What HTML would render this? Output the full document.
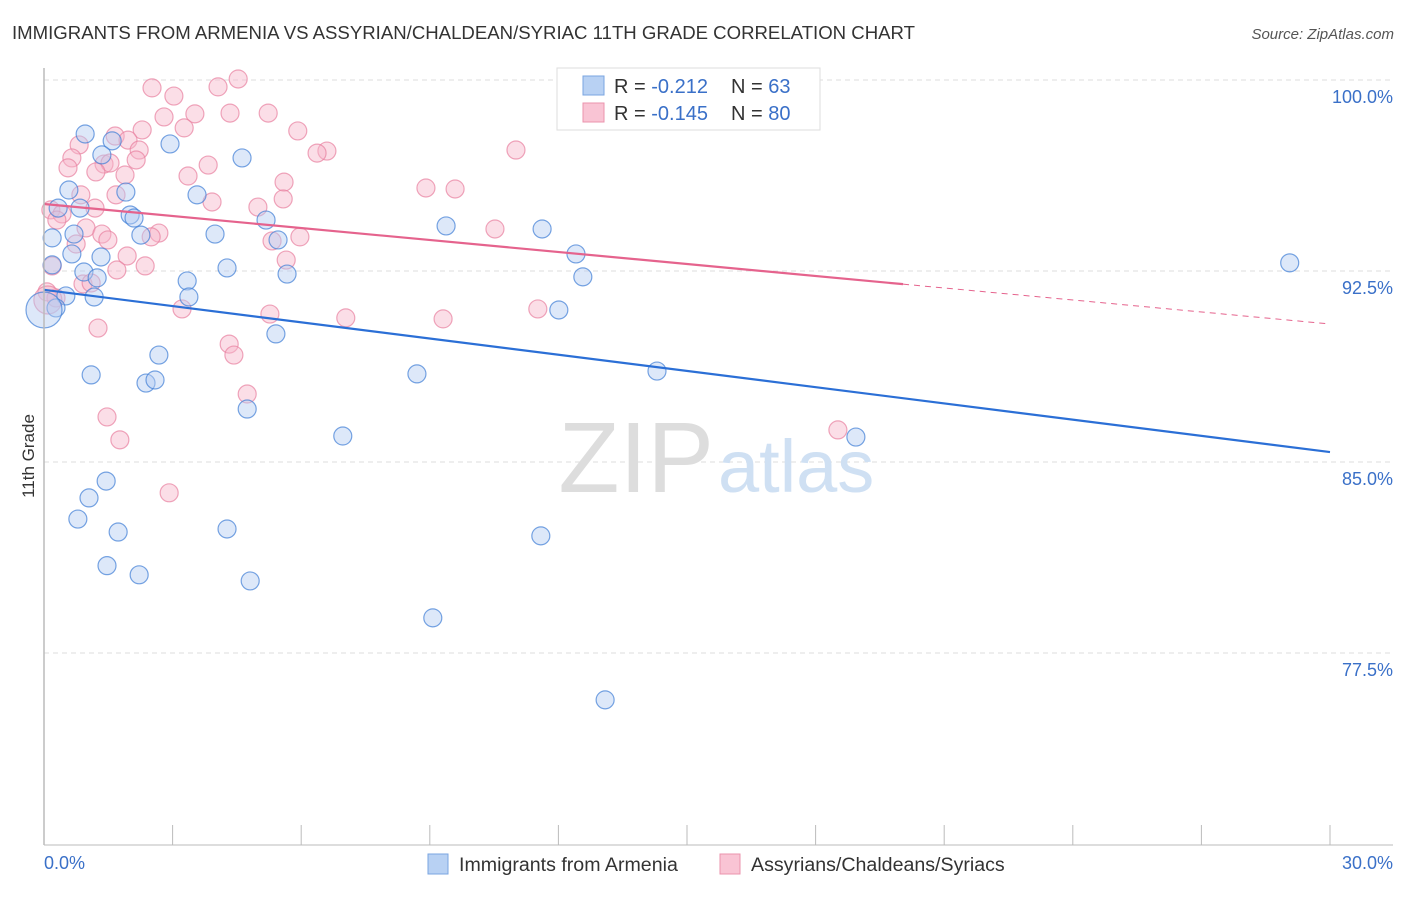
<!DOCTYPE html>
<html><head><meta charset="utf-8"><style>
body{margin:0;background:#fff;font-family:"Liberation Sans",sans-serif}
svg text{font-family:"Liberation Sans",sans-serif}
</style></head><body>
<svg id="chart" width="1406" height="892" viewBox="0 0 1406 892">
<text x="12" y="39" font-size="18.6" fill="#333">IMMIGRANTS FROM ARMENIA VS ASSYRIAN/CHALDEAN/SYRIAC 11TH GRADE CORRELATION CHART</text>
<text x="1394" y="39" font-size="15" fill="#555" font-style="italic" text-anchor="end">Source: ZipAtlas.com</text>
<g id="grid"></g>
<g>
<text x="714" y="492" font-size="100" fill="#ddd" text-anchor="end" font-family="Liberation Serif, serif">ZIP</text>
<text x="718" y="492" font-size="74" fill="#cfe0f3" text-anchor="start">atlas</text>
</g>
<g id="pts"></g>
<g id="lines"></g>
<line x1="44" y1="68" x2="44" y2="845" stroke="#bbb" stroke-width="1.5"/>
<line x1="44" y1="845" x2="1393" y2="845" stroke="#bbb" stroke-width="1"/>
<text transform="translate(34,456) rotate(-90)" font-size="17" fill="#333" text-anchor="middle">11th Grade</text>
<text x="44" y="869" font-size="18" fill="#3a70c8">0.0%</text>
<text x="1393" y="869" font-size="18" fill="#3a70c8" text-anchor="end">30.0%</text>
<g>
<rect x="557" y="68" width="263" height="62" fill="#fff" stroke="#ddd"/>
<rect x="583" y="76" width="21" height="19" fill="#b8d1f3" stroke="#7aa5e0"/>
<rect x="583" y="103" width="21" height="19" fill="#f9c4d4" stroke="#eb93ad"/>
<text x="614" y="93" font-size="20" fill="#333">R = <tspan fill="#3a70c8">-0.212</tspan><tspan x="731">N = </tspan><tspan fill="#3a70c8">63</tspan></text>
<text x="614" y="120" font-size="20" fill="#333">R = <tspan fill="#3a70c8">-0.145</tspan><tspan x="731">N = </tspan><tspan fill="#3a70c8">80</tspan></text>
</g>
<g>
<rect x="428" y="854" width="20" height="20" fill="#b8d1f3" stroke="#7aa5e0"/>
<text x="459" y="871" font-size="19.6" fill="#333">Immigrants from Armenia</text>
<rect x="720" y="854" width="20" height="20" fill="#f9c4d4" stroke="#eb93ad"/>
<text x="751" y="871" font-size="19.6" fill="#333">Assyrians/Chaldeans/Syriacs</text>
</g>
</svg>
<script>
const yTicks=[100,92.5,85,77.5];
const yTickLabels=["100.0%","92.5%","85.0%","77.5%"];
const xTicks=[0,3,6,9,12,15,18,21,24,27,30];
const blueData=[[0.96,97.88],[1.59,97.61],[2.94,97.49],[4.62,96.94],[1.35,97.06],[0.58,95.68],[1.91,95.60],[3.57,95.49],[0.33,94.97],[0.84,94.97],[2.01,94.70],[2.10,94.58],[5.18,94.50],[0.19,93.80],[0.70,93.95],[2.26,93.91],[3.99,93.95],[5.46,93.72],[9.38,94.27],[11.62,94.15],[12.41,93.17],[1.33,93.05],[0.65,93.17],[0.19,92.74],[0.93,92.46],[1.24,92.23],[4.27,92.62],[3.34,92.11],[5.67,92.38],[12.57,92.27],[29.06,92.82],[0.51,91.52],[1.17,91.48],[3.38,91.48],[0.28,91.05],[12.01,90.97],[5.41,90.03],[2.68,89.20],[1.10,88.42],[2.38,88.10],[2.59,88.22],[8.70,88.46],[14.30,88.57],[4.74,87.08],[6.97,86.02],[18.94,85.98],[1.45,84.25],[1.05,83.59],[0.79,82.76],[1.73,82.25],[4.27,82.37],[11.59,82.10],[1.47,80.93],[2.22,80.57],[4.81,80.33],[9.07,78.88],[13.09,75.66]];
const blueBig=[[0.0,90.97]];
const pinkData=[[2.52,99.69],[4.06,99.73],[4.53,100.04],[3.03,99.37],[5.23,98.70],[4.34,98.70],[3.52,98.67],[2.80,98.55],[3.27,98.12],[2.29,98.04],[5.92,98.00],[1.66,97.80],[1.96,97.64],[2.22,97.25],[0.82,97.45],[0.65,96.94],[6.60,97.21],[6.37,97.13],[11.01,97.25],[1.40,96.70],[1.54,96.74],[0.56,96.55],[1.21,96.39],[1.89,96.27],[2.15,96.86],[3.83,96.66],[3.36,96.23],[5.60,95.99],[8.91,95.76],[9.59,95.72],[0.86,95.49],[1.68,95.49],[3.92,95.21],[4.99,95.01],[5.58,95.33],[0.16,94.90],[0.42,94.74],[1.19,94.97],[0.30,94.50],[0.98,94.19],[1.35,93.95],[2.68,93.99],[2.50,93.84],[1.49,93.72],[5.97,93.84],[5.32,93.68],[0.75,93.56],[10.52,94.15],[1.94,93.09],[5.65,92.93],[2.36,92.70],[1.70,92.54],[0.19,92.70],[0.91,91.99],[1.10,92.03],[0.07,91.68],[0.28,91.44],[3.22,91.01],[5.27,90.81],[7.04,90.66],[9.31,90.62],[11.52,91.01],[4.32,89.63],[4.43,89.20],[1.26,90.26],[4.74,87.67],[1.47,86.77],[1.77,85.87],[2.92,83.79],[18.52,86.26]];
const pinkBig=[[0.09,91.36]];
const blueTrend=[91.76,85.39];
const pinkTrend=[95.13,90.42];
const pinkSolidEnd=20.04;

const NS="http://www.w3.org/2000/svg";
function sx(v){return 44+v*(1286/30);}
function sy(v){return 80+(100-v)*(191/7.5);}
function mk(t,a,p){const e=document.createElementNS(NS,t);for(const k in a)e.setAttribute(k,a[k]);p.appendChild(e);return e;}
const grid=document.getElementById('grid');
yTicks.forEach((t,i)=>{
 const l=mk('line',{x1:44,x2:1393,y1:sy(t),y2:sy(t),stroke:'#ddd','stroke-dasharray':'5,4'},grid);
 
 
 const tx=mk('text',{x:1393,y:sy(t)+23,'font-size':18,fill:'#3a70c8','text-anchor':'end'},grid);
 tx.textContent=yTickLabels[i];
 
 
});
xTicks.forEach(t=>{
 const l=mk('line',{x1:sx(t),x2:sx(t),y1:825,y2:845,stroke:'#bbb'},grid);
 
 
});
const pts=document.getElementById('pts');
function dots(arr,r,fill,stroke,name){arr.forEach(d=>{
 const c=mk('circle',{cx:sx(d[0]),cy:sy(d[1]),r:r,fill:fill,'fill-opacity':0.45,stroke:stroke,'stroke-opacity':0.7,'stroke-width':1.2},pts);
 
 
});}
dots(pinkData,9,'#f7b6c9','#e8809f','pink-point');
dots(pinkBig,14,'#f7b6c9','#e8809f','pink-point');
dots(blueData,9,'#b3cdf1','#3f7dd6','blue-point');
dots(blueBig,18,'#b3cdf1','#3f7dd6','blue-point');
const lines=document.getElementById('lines');
let l=mk('line',{x1:sx(0),y1:sy(blueTrend[0]),x2:sx(30),y2:sy(blueTrend[1]),stroke:'#2b6fd6','stroke-width':2.2},lines);


const pm=(pinkTrend[1]-pinkTrend[0])/30;
l=mk('line',{x1:sx(0),y1:sy(pinkTrend[0]),x2:sx(pinkSolidEnd),y2:sy(pinkTrend[0]+pm*pinkSolidEnd),stroke:'#e5638d','stroke-width':2.2},lines);


l=mk('line',{x1:sx(pinkSolidEnd),y1:sy(pinkTrend[0]+pm*pinkSolidEnd),x2:sx(30),y2:sy(pinkTrend[1]),stroke:'#e5638d','stroke-width':1,'stroke-dasharray':'6,5'},lines);


</script>
</body></html>
